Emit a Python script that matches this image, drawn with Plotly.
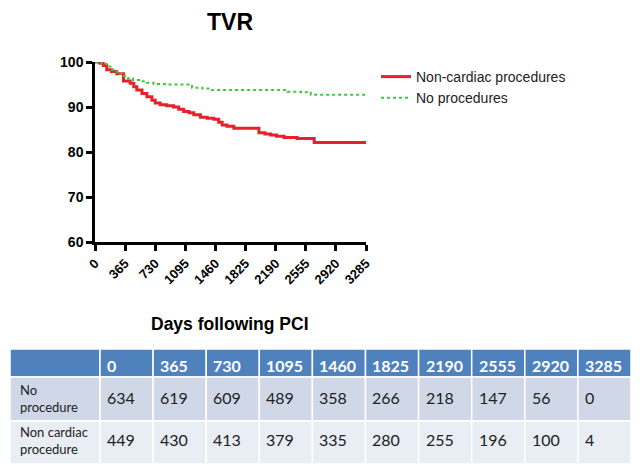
import plotly.graph_objects as go

# ---- data ----
red_days = [0, 60, 100, 142, 200, 264, 345, 426, 470, 507, 570, 629, 690, 730, 791, 870, 953, 1015, 1075, 1140, 1197, 1278, 1360, 1440, 1500, 1541, 1600, 1683, 1967, 1987, 2060, 2129, 2200, 2292, 2450, 2575, 2657, 3285]
red_surv = [100, 99.7, 99.2, 98.3, 97.9, 97.4, 95.8, 95.3, 94.5, 93.8, 93.0, 92.3, 91.5, 90.9, 90.5, 90.3, 90.0, 89.5, 89.0, 88.7, 88.3, 87.7, 87.5, 87.3, 86.6, 86.0, 85.7, 85.3, 85.3, 84.3, 84.0, 83.8, 83.5, 83.2, 83.0, 83.0, 82.1, 82.1]

green_days = [0, 80, 142, 200, 264, 320, 385, 460, 548, 630, 710, 850, 1115, 1176, 1300, 1400, 2000, 2312, 2332, 2500, 2575, 2616, 3285]
green_surv = [100, 99.6, 99.0, 98.3, 97.4, 96.9, 96.4, 96.0, 95.7, 95.4, 95.1, 95.0, 95.0, 94.3, 94.1, 93.8, 93.8, 93.8, 93.4, 93.3, 93.1, 92.7, 92.7]

series_names = ["Non-cardiac procedures", "No procedures"]
x_ticks = [0, 365, 730, 1095, 1460, 1825, 2190, 2555, 2920, 3285]
y_ticks = [60, 70, 80, 90, 100]

table_header = ["", "0", "365", "730", "1095", "1460", "1825", "2190", "2555", "2920", "3285"]
row_labels = ["No<br>procedure", "Non cardiac<br>procedure"]
no_proc_at_risk = [634, 619, 609, 489, 358, 266, 218, 147, 56, 0]
noncardiac_at_risk = [449, 430, 413, 379, 335, 280, 255, 196, 100, 4]

# page is 642x475; the html body has an 8px margin, so the figure starts at (8, 8)
PAGE_W, PAGE_H, OFF = 642, 475, 8
W, H = PAGE_W - 2 * OFF, PAGE_H - 2 * OFF

def px(x):
    return (x - OFF) / W

def py(y):
    return 1 - (y - OFF) / H

fig = go.Figure()
fig.add_trace(go.Scatter(x=red_days, y=red_surv, mode="lines", line_shape="hv",
                         name=series_names[0], legendgroup="a",
                         line=dict(color="#E8202A", width=3)))
fig.add_trace(go.Scatter(x=green_days, y=green_surv, mode="lines", line_shape="hv",
                         name=series_names[1], legendgroup="b",
                         line=dict(color="#3CC83C", width=2, dash="dot")))

axis_font = dict(family="Arial", size=14, color="black", weight="bold")
fig.update_layout(
    width=W, height=H,
    margin=dict(l=0, r=0, t=0, b=0, autoexpand=False),
    paper_bgcolor="white", plot_bgcolor="white",
    showlegend=True,
    legend=dict(x=px(376), y=py(61), xanchor="left", yanchor="top",
                font=dict(family="Arial", size=14, color="#222"),
                itemwidth=30,
                tracegroupgap=0, traceorder="grouped", bgcolor="rgba(0,0,0,0)"),
    xaxis=dict(domain=[px(95), px(366)], range=[0, 3285], tickvals=x_ticks,
               ticktext=[str(t) for t in x_ticks], tickangle=-45, automargin=False,
               showgrid=False, zeroline=False, showline=True, linecolor="black",
               linewidth=2.5, ticks="outside", ticklen=6, tickwidth=2.5,
               tickcolor="black", tickfont=dict(family="Arial", size=13, color="black", weight="bold")),
    yaxis=dict(domain=[py(242), py(62)], range=[60, 100], tickvals=y_ticks, automargin=False,
               showgrid=False, zeroline=False, showline=True, linecolor="black",
               linewidth=2.5, ticks="outside", ticklen=6, tickwidth=2.5,
               tickcolor="black", tickfont=axis_font),
)

fig.add_annotation(text="<b>TVR</b>", x=px(230), y=py(22), xref="paper", yref="paper",
                   xanchor="center", yanchor="middle",
                   showarrow=False, font=dict(family="Arial", size=23, color="black"))
fig.add_annotation(text="<b>Days following PCI</b>", x=px(230), y=py(324), xref="paper", yref="paper",
                   xanchor="center", yanchor="middle",
                   showarrow=False, font=dict(family="Arial", size=17.5, color="black"))

# ---- at-risk table ----
col_edges = [10, 100]
for i in range(len(table_header) - 1):
    col_edges.append(100 + (631 - 100) * (i + 1) / (len(table_header) - 1))
row_edges = [349, 377, 421, 464]
text_shift = [2, -2, -3]
fills = ["#4F81BD", "#D0D8E8", "#E9EDF4"]
rows = [table_header,
        [row_labels[0]] + [str(v) for v in no_proc_at_risk],
        [row_labels[1]] + [str(v) for v in noncardiac_at_risk]]

shapes = []
for r in range(3):
    for c in range(len(table_header)):
        x0, x1 = col_edges[c], col_edges[c + 1]
        y0, y1 = row_edges[r], row_edges[r + 1]
        shapes.append(dict(type="rect", xref="paper", yref="paper",
                           x0=px(x0), x1=px(x1), y0=py(y0), y1=py(y1),
                           fillcolor=fills[r], line=dict(color="white", width=1.5),
                           layer="below"))
        txt = rows[r][c]
        if not txt:
            continue
        if r == 0:
            f = dict(family="Lato", size=16, color="white", weight="bold")
        elif c == 0:
            f = dict(family="Lato", size=13, color="#222")
        else:
            f = dict(family="Lato", size=16, color="#222")
        pad = 8 if c == 0 else 5
        shift = text_shift[r] if c > 0 else (text_shift[r] + 1)
        fig.add_annotation(text=txt, x=px(x0 + pad), y=py((y0 + y1) / 2 + shift),
                           xref="paper", yref="paper", xanchor="left", yanchor="middle",
                           align="left", showarrow=False, font=f)
fig.update_layout(shapes=shapes)

fig.write_html("out.html")
